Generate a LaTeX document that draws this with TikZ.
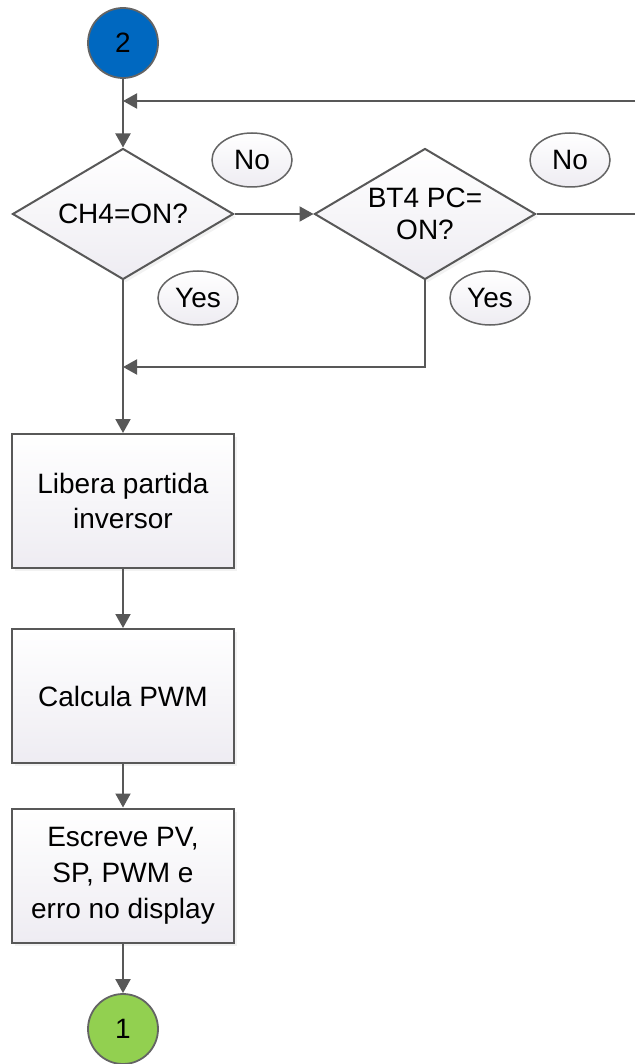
\documentclass[tikz,border=0pt]{standalone}
\usepackage{fontspec}
\setmainfont{Liberation Sans}
\usetikzlibrary{shapes.geometric,arrows.meta,shadows}
\definecolor{linegray}{RGB}{88,88,88}
\definecolor{rimgray}{RGB}{100,100,100}
\definecolor{paleshade}{RGB}{238,236,242}
\definecolor{termblue}{RGB}{0,104,192}
\definecolor{termgreen}{RGB}{146,208,80}
\begin{document}
\begin{tikzpicture}[x=1pt,y=-1pt,
  font=\fontsize{28pt}{35pt}\selectfont,
  link/.style={draw=linegray, line width=2pt},
  flow/.style={link, -{Triangle[length=14pt,width=15pt]}},
  shapebase/.style={draw=linegray, line width=2pt, top color=white, bottom color=paleshade,
    drop shadow={opacity=0.10, shadow xshift=3pt, shadow yshift=-3pt}},
  procbox/.style={shapebase, rectangle, minimum width=222pt, minimum height=134pt,
    align=center, inner sep=0pt},
  decision/.style={shapebase, diamond, minimum width=221pt, minimum height=131pt, inner sep=0pt},
  terminal/.style={circle, draw=rimgray, line width=1.8pt, minimum size=70pt, inner sep=0pt},
  answer/.style={ellipse, draw=rimgray, line width=1.5pt, top color=white, bottom color=paleshade,
    minimum width=80pt, minimum height=54pt, inner sep=0pt}
]
\useasboundingbox (0,0) rectangle (635,1064);

% terminals
\node[terminal, fill=termblue] (c2) at (123,43) {2};
\node[terminal, fill=termgreen] (c1) at (123,1029) {1};

% decisions
\node[decision, label={[align=center]center:CH4=ON?}] (d1) at (123,214) {};
\node[decision, label={[align=center, font=\fontsize{28pt}{32pt}\selectfont]center:BT4 PC=\\ON?}] (d2) at (425,214) {};

% answer tags
\node[answer] (no1) at (252,160) {No};
\node[answer] (no2) at (570,160) {No};
\node[answer] (yes1) at (198,298) {Yes};
\node[answer] (yes2) at (490,298) {Yes};

% process steps
\node[procbox] (b1) at (123,501) {Libera partida\\inversor};
\node[procbox] (b2) at (123,696) {Calcula PWM};
\node[procbox, font=\fontsize{28pt}{36pt}\selectfont] (b3) at (123,875.5) {Escreve PV,\\SP, PWM e\\erro no display};

% free ends of the loop at the right border, and the yes merge point
\coordinate (loopin) at (635,101);
\coordinate (loopout) at (635,214);
\coordinate (yesjoin) at (123,367);

% connectors
\draw[flow] (c2.south) -- (d1.north);
\draw[flow] (loopin) -- (loopin -| c2.south);
\draw[flow] (d1.east) -- (d2.west);
\draw[link] (d2.east) -- (loopout);
\draw[flow] (d2.south) |- (yesjoin);
\draw[flow] (d1.south) -- (b1.north);
\draw[flow] (b1.south) -- (b2.north);
\draw[flow] (b2.south) -- (b3.north);
\draw[flow] (b3.south) -- (c1.north);
\end{tikzpicture}
\end{document}
